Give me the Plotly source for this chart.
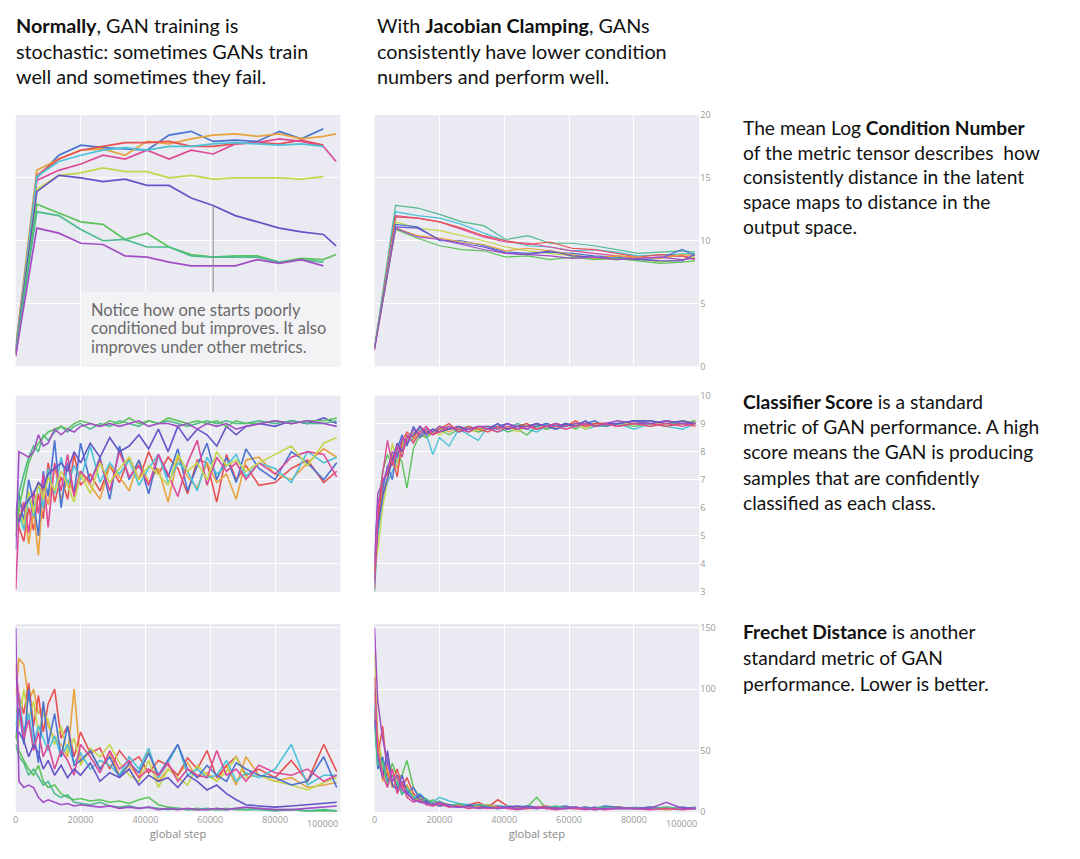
import plotly.graph_objects as go

# ---------------- data ----------------
steps_cn = [0, 6500, 13300, 20100, 26900, 33700, 40500, 47300, 54100, 60900, 67700, 74500, 81300, 88100, 94900, 98800]
steps_n = [0, 1000, 2500, 4000, 5500, 7000, 8500, 10000, 12000, 14000, 16000, 18000, 20000, 23000, 26000, 29000,
           32000, 35000, 38000, 41000, 44000, 47000, 50000, 53000, 56000, 59000, 62000, 65000, 68000, 71000,
           75000, 80000, 85000, 90000, 95000, 99000]

# Row 1 left: log condition number, normal training
cn_norm = {
    "blue":   [1.5, 15.0, 16.8, 17.6, 17.4, 17.3, 17.2, 18.4, 18.7, 17.9, 18.0, 17.9, 18.7, 18.1, 18.9, None],
    "orange": [1.5, 15.6, 16.5, 17.2, 17.3, 16.8, 17.9, 17.7, 18.1, 18.4, 18.5, 18.3, 18.5, 18.1, 18.3, 18.5],
    "red":    [1.0, 15.2, 16.5, 17.2, 17.5, 17.8, 17.8, 17.9, 17.5, 17.5, 17.7, 17.8, 17.7, 18.0, 17.6, None],
    "pink":   [0.8, 14.8, 15.6, 16.1, 16.8, 16.5, 17.2, 16.5, 17.2, 16.9, 17.7, 17.8, 18.1, 17.9, 17.5, 16.3],
    "cyan":   [1.2, 15.1, 16.3, 16.8, 17.2, 17.4, 17.2, 17.5, 17.5, 17.7, 17.8, 17.7, 17.6, 17.7, 17.5, None],
    "yellow": [1.3, 14.1, 15.2, 15.4, 15.8, 15.5, 15.5, 15.0, 15.2, 14.9, 15.0, 15.0, 15.0, 14.9, 15.1, None],
    "indigo": [1.2, 13.9, 15.2, 15.0, 14.7, 14.9, 14.4, 14.4, 13.4, 12.8, 12.0, 11.5, 11.0, 10.7, 10.5, 9.6],
    "green":  [1.0, 12.9, 12.2, 11.5, 11.3, 10.1, 10.6, 9.5, 8.9, 8.7, 8.8, 8.8, 8.3, 8.6, 8.5, 8.9],
    "sgreen": [1.1, 12.3, 12.0, 10.9, 10.0, 10.1, 9.5, 9.5, 8.8, 8.7, 8.7, 8.7, 8.3, 8.5, 8.3, None],
    "violet": [0.9, 11.0, 10.6, 9.8, 9.7, 8.8, 8.7, 8.3, 8.0, 8.0, 8.0, 8.5, 8.2, 8.5, 8.0, None],
}

# Row 1 right: log condition number, Jacobian clamping
cn_clamp = {
    "sgreen": [1.5, 12.8, 12.6, 12.1, 11.5, 11.2, 10.1, 10.4, 9.8, 9.8, 9.6, 9.3, 9.0, 9.1, 9.2, 9.1],
    "cyan":   [1.5, 12.3, 12.0, 11.8, 11.3, 10.6, 10.0, 9.6, 9.5, 9.2, 9.3, 9.1, 8.8, 8.9, 9.0, 9.0],
    "pink":   [1.4, 12.0, 11.8, 11.5, 10.9, 10.3, 9.9, 9.8, 9.5, 9.2, 9.0, 8.8, 8.6, 8.7, 8.8, 8.6],
    "red":    [1.4, 11.9, 11.8, 11.5, 11.0, 10.4, 10.0, 9.7, 9.9, 9.4, 9.3, 9.0, 8.7, 8.9, 8.8, 8.5],
    "yellow": [1.5, 11.5, 11.0, 10.8, 10.4, 10.0, 9.5, 9.2, 9.0, 8.8, 8.6, 8.5, 8.6, 8.3, 8.5, 8.7],
    "blue":   [1.5, 11.3, 11.1, 10.0, 10.0, 9.6, 9.1, 9.0, 9.1, 9.0, 8.8, 8.7, 8.5, 8.6, 9.3, 8.8],
    "orange": [1.5, 11.0, 10.4, 10.2, 9.9, 9.7, 9.2, 9.4, 9.2, 8.9, 8.6, 8.8, 8.7, 8.6, 8.9, 8.8],
    "indigo": [1.5, 11.1, 11.0, 10.1, 9.8, 9.5, 9.0, 8.9, 9.2, 8.8, 8.7, 8.6, 8.5, 8.4, 8.4, 8.9],
    "green":  [1.5, 10.9, 10.2, 9.6, 9.3, 9.2, 8.7, 8.8, 8.5, 8.7, 8.5, 8.6, 8.4, 8.2, 8.3, 8.4],
    "violet": [1.3, 11.0, 10.3, 10.1, 9.7, 9.3, 9.0, 8.9, 8.8, 8.6, 8.7, 8.5, 8.6, 8.7, 8.5, 8.6],
}

# Row 2 left: classifier score, normal training
cs_norm = {
    "red":    [5.5, 5.3, 4.8, 6.0, 5.2, 6.5, 5.6, 7.6, 6.2, 7.1, 6.3, 7.9, 6.8, 7.2, 6.6, 7.5, 6.9, 7.8, 7.0, 8.0, 7.2, 7.8, 7.4, 6.5, 7.7, 7.6, 6.2, 7.9, 7.0, 7.5, 6.8, 6.9, 7.4, 7.7, 6.9, 7.3],
    "orange": [5.0, 5.6, 6.2, 4.7, 5.9, 4.3, 6.8, 6.1, 7.5, 6.3, 7.0, 6.5, 7.3, 6.8, 6.3, 7.5, 7.1, 6.6, 7.7, 6.9, 7.4, 6.2, 7.8, 7.1, 6.7, 7.6, 6.9, 7.2, 6.3, 7.7, 7.8, 7.2, 7.0, 7.6, 8.1, 7.8],
    "blue":   [5.8, 6.5, 5.5, 7.0, 6.2, 5.0, 7.3, 6.4, 8.4, 6.0, 7.6, 6.5, 8.3, 6.9, 7.8, 6.3, 8.2, 7.0, 7.7, 6.5, 7.9, 7.1, 8.1, 6.6, 7.5, 8.3, 7.0, 7.8, 6.9, 8.1, 7.4, 7.0, 8.0, 7.6, 7.0, 7.6],
    "cyan":   [5.3, 5.8, 5.2, 6.4, 5.7, 6.9, 6.0, 7.4, 6.5, 7.8, 6.8, 7.5, 7.0, 8.2, 6.9, 7.6, 7.2, 7.7, 6.8, 7.4, 7.9, 6.9, 7.6, 7.3, 6.6, 7.8, 7.2, 7.5, 7.9, 7.1, 7.6, 7.4, 6.9, 8.0, 7.6, 7.8],
    "pink":   [3.1, 5.6, 6.2, 5.1, 6.6, 5.8, 7.2, 5.3, 7.6, 6.6, 7.9, 6.4, 7.3, 6.9, 7.7, 6.6, 8.0, 7.1, 7.5, 6.8, 7.9, 7.2, 6.4, 7.6, 8.4, 6.8, 7.8, 7.3, 7.6, 7.0, 7.6, 7.2, 7.8, 8.0, 7.9, 7.1],
    "yellow": [5.2, 6.0, 5.4, 6.6, 5.8, 6.9, 6.3, 7.1, 6.6, 7.3, 6.8, 6.2, 7.2, 6.5, 7.6, 6.9, 7.4, 7.8, 7.0, 7.5, 7.2, 6.8, 7.9, 7.3, 7.6, 7.0, 8.0, 7.5, 7.7, 7.3, 7.6, 7.9, 8.2, 7.5, 8.3, 8.5],
    "indigo": [5.8, 5.5, 6.0, 6.3, 6.5, 6.9, 6.7, 7.2, 7.4, 7.6, 7.3, 8.0, 7.6, 8.3, 7.8, 8.5, 8.0, 8.2, 8.6, 8.1, 8.8, 8.0, 8.9, 8.4, 8.8, 8.6, 8.2, 8.9, 8.6, 8.9, 9.0, 8.9, 9.1, 9.0, 9.2, 9.0],
    "sgreen": [5.5, 6.5, 7.2, 7.8, 8.2, 8.0, 8.6, 8.4, 8.7, 8.9, 8.7, 8.9, 9.0, 8.8, 9.0, 8.9, 9.1, 9.0, 8.9, 9.1, 9.0, 9.1, 9.0, 8.9, 9.0, 9.1, 9.0, 9.1, 9.0, 9.0, 9.1, 9.0, 9.1, 9.0, 9.0, 9.1],
    "green":  [5.0, 6.0, 6.8, 7.6, 8.0, 8.3, 8.5, 8.7, 8.8, 8.9, 8.8, 9.0, 9.1, 9.0, 8.9, 9.1, 9.0, 9.2, 9.0, 9.1, 9.0, 9.2, 9.1, 9.0, 9.1, 9.0, 9.1, 8.9, 9.1, 9.0, 9.0, 9.1, 9.0, 9.1, 9.1, 9.2],
    "violet": [4.5, 8.0, 7.9, 7.8, 8.0, 8.6, 8.2, 8.3, 8.8, 8.6, 8.8, 8.7, 8.9, 9.0, 8.9, 9.0, 8.9, 9.0, 9.1, 8.9, 9.0, 9.0, 8.9, 9.0, 8.8, 9.0, 8.9, 9.0, 8.8, 8.9, 9.0, 9.1, 9.0, 9.1, 9.0, 8.9],
}

# Row 2 right: classifier score, Jacobian clamping
cs_clamp = {
    "sgreen": [3.0, 5.2, 6.8, 7.3, 7.6, 7.9, 8.3, 8.5, 8.7, 8.6, 8.8, 8.7, 8.8, 8.9, 8.8, 8.9, 8.8, 8.9, 8.9, 8.8, 9.0, 8.9, 8.9, 9.0, 8.9, 9.0, 8.9, 9.0, 9.0, 8.9, 9.0, 9.0, 9.1, 9.0, 9.0, 9.0],
    "orange": [3.8, 5.6, 6.5, 7.0, 7.9, 7.4, 8.1, 8.6, 8.4, 8.8, 8.5, 8.7, 8.9, 8.7, 8.9, 8.8, 8.7, 8.9, 8.8, 8.9, 8.8, 8.9, 9.0, 8.8, 8.9, 8.9, 9.0, 8.9, 9.0, 9.0, 8.9, 9.0, 8.9, 9.1, 9.0, 9.1],
    "green":  [3.5, 6.0, 7.3, 7.9, 7.5, 8.0, 7.6, 6.7, 8.1, 8.6, 8.5, 8.7, 8.8, 8.6, 8.8, 8.9, 8.7, 8.8, 8.9, 8.7, 8.8, 8.6, 8.9, 8.8, 8.9, 9.0, 8.8, 9.0, 8.9, 8.9, 9.0, 8.9, 9.0, 8.9, 9.0, 9.1],
    "cyan":   [3.3, 5.0, 6.2, 6.9, 7.3, 7.7, 8.0, 8.3, 8.5, 8.8, 8.6, 7.9, 8.5, 8.2, 8.8, 8.6, 8.4, 8.9, 8.7, 8.8, 8.9, 8.8, 8.7, 8.9, 8.8, 8.9, 9.0, 8.8, 8.9, 8.9, 9.0, 8.8, 9.0, 8.9, 8.8, 9.0],
    "yellow": [3.7, 4.5, 6.0, 7.0, 8.3, 7.6, 8.0, 8.4, 8.7, 8.5, 8.7, 8.8, 8.6, 8.8, 8.9, 8.7, 8.8, 8.9, 8.8, 8.9, 8.7, 8.9, 9.0, 8.9, 9.0, 8.9, 9.0, 8.8, 9.0, 8.9, 9.0, 9.0, 8.9, 9.0, 9.1, 9.0],
    "blue":   [4.2, 6.2, 6.6, 7.5, 7.0, 8.1, 8.6, 8.2, 8.9, 8.5, 8.7, 8.8, 8.7, 8.9, 8.7, 8.8, 8.9, 8.8, 8.9, 9.0, 8.8, 8.9, 8.9, 9.0, 8.9, 9.0, 8.9, 9.0, 9.1, 8.9, 9.0, 9.1, 9.0, 9.1, 9.0, 9.0],
    "red":    [3.6, 5.5, 7.0, 7.2, 7.8, 7.1, 8.4, 8.7, 8.5, 8.9, 8.7, 8.6, 8.8, 9.0, 8.7, 8.9, 8.8, 8.7, 8.9, 8.8, 8.9, 9.0, 8.8, 8.9, 9.0, 8.9, 9.1, 8.9, 9.0, 9.0, 8.9, 9.0, 9.0, 8.9, 9.0, 8.9],
    "violet": [4.0, 6.5, 6.9, 7.4, 8.0, 7.8, 8.5, 8.3, 8.8, 8.6, 8.8, 8.7, 8.9, 8.8, 8.9, 8.8, 8.9, 8.9, 8.8, 9.0, 8.9, 8.8, 9.0, 8.9, 9.0, 8.9, 9.0, 9.0, 8.9, 9.0, 9.1, 9.0, 9.0, 9.1, 9.0, 9.0],
    "indigo": [3.4, 5.3, 6.4, 7.1, 7.7, 8.3, 8.0, 8.5, 8.6, 8.9, 8.6, 8.8, 8.7, 8.8, 8.9, 8.7, 8.9, 8.8, 9.0, 8.8, 8.9, 8.9, 9.0, 8.9, 8.8, 9.0, 8.9, 9.1, 8.9, 9.0, 9.0, 9.1, 9.1, 9.0, 9.1, 9.0],
    "pink":   [3.1, 5.8, 7.2, 8.4, 7.5, 8.2, 7.8, 8.6, 8.3, 8.7, 8.9, 8.6, 8.7, 8.9, 8.8, 8.7, 8.9, 8.8, 8.7, 8.9, 8.8, 8.9, 8.8, 8.9, 8.9, 8.8, 8.9, 9.0, 8.9, 9.0, 8.9, 9.0, 8.9, 9.0, 8.9, 9.0],
}

# Row 3 left: Frechet distance, normal training
fd_norm = {
    "orange": [95, 125, 120, 90, 100, 80, 85, 70, 60, 55, 45, 100, 40, 50, 35, 48, 30, 38, 28, 50, 25, 35, 30, 40, 28, 32, 25, 38, 22, 45, 30, 25, 28, 20, 22, 24],
    "red":    [110, 95, 80, 105, 70, 95, 65, 88, 100, 60, 70, 45, 65, 48, 52, 35, 50, 40, 45, 32, 42, 38, 30, 44, 35, 50, 28, 38, 45, 30, 35, 28, 42, 25, 55, 33],
    "yellow": [85, 70, 100, 75, 90, 65, 80, 75, 55, 70, 48, 60, 38, 52, 45, 55, 40, 30, 25, 42, 20, 35, 28, 22, 38, 30, 25, 33, 45, 28, 30, 25, 22, 18, 24, 28],
    "cyan":   [70, 95, 65, 80, 55, 70, 60, 50, 62, 45, 55, 40, 48, 35, 42, 38, 30, 45, 35, 52, 28, 40, 55, 30, 35, 28, 30, 42, 25, 32, 28, 35, 55, 22, 30, 30],
    "blue":   [60, 85, 55, 100, 65, 40, 90, 55, 80, 45, 70, 38, 42, 50, 35, 45, 28, 40, 32, 48, 30, 42, 55, 35, 28, 38, 30, 25, 40, 35, 30, 28, 22, 25, 45, 20],
    "pink":   [120, 90, 60, 75, 50, 65, 45, 55, 35, 50, 42, 30, 55, 45, 32, 50, 35, 42, 28, 35, 30, 40, 25, 35, 30, 28, 50, 30, 35, 25, 38, 32, 30, 35, 25, 30],
    "indigo": [60, 65, 58, 45, 55, 48, 35, 42, 30, 38, 28, 35, 30, 40, 25, 32, 28, 35, 22, 30, 25, 28, 20, 30, 25, 18, 22, 15, 10, 6, 5, 4, 5, 6, 7, 8],
    "green":  [65, 50, 42, 35, 30, 38, 25, 20, 22, 15, 12, 10, 11, 9, 10, 8, 9, 7, 10, 12, 6, 4, 3, 2, 3, 2, 2, 3, 2, 2, 3, 2, 2, 1, 1, 1],
    "sgreen": [55, 45, 40, 30, 35, 28, 22, 25, 15, 12, 14, 8, 7, 6, 8, 5, 4, 5, 3, 4, 3, 2, 3, 2, 2, 3, 2, 2, 3, 2, 2, 1, 2, 1, 2, 1],
    "violet": [150, 25, 20, 22, 20, 12, 8, 10, 8, 6, 7, 5, 6, 5, 4, 5, 3, 4, 3, 4, 2, 3, 2, 3, 2, 2, 3, 2, 3, 4, 3, 2, 2, 3, 4, 5],
}

# Row 3 right: Frechet distance, Jacobian clamping
fd_clamp = {
    "yellow": [130, 60, 40, 30, 35, 20, 25, 12, 15, 10, 8, 6, 7, 5, 6, 4, 5, 4, 3, 5, 4, 3, 4, 3, 4, 3, 3, 4, 3, 3, 4, 3, 3, 3, 3, 3],
    "green":  [100, 55, 35, 25, 40, 28, 30, 42, 20, 12, 8, 10, 7, 6, 5, 4, 5, 4, 5, 4, 3, 4, 12, 3, 4, 3, 4, 3, 3, 4, 3, 3, 4, 3, 3, 3],
    "red":    [80, 45, 70, 30, 25, 35, 20, 28, 15, 10, 9, 7, 8, 6, 5, 6, 8, 4, 10, 5, 4, 3, 4, 5, 3, 4, 3, 4, 3, 3, 4, 3, 3, 4, 3, 3],
    "cyan":   [90, 40, 30, 45, 20, 25, 15, 18, 12, 15, 10, 8, 12, 9, 7, 6, 5, 6, 4, 5, 4, 5, 4, 3, 4, 4, 3, 4, 3, 4, 3, 4, 3, 3, 4, 3],
    "blue":   [85, 35, 45, 25, 30, 20, 25, 15, 20, 10, 8, 6, 7, 5, 4, 6, 5, 4, 5, 4, 3, 5, 4, 3, 4, 5, 3, 4, 3, 5, 4, 3, 4, 3, 3, 4],
    "orange": [95, 60, 25, 35, 20, 28, 18, 22, 12, 9, 10, 7, 6, 5, 6, 4, 5, 6, 4, 3, 4, 3, 3, 4, 3, 4, 3, 3, 2, 3, 4, 3, 3, 2, 3, 3],
    "indigo": [75, 45, 28, 50, 22, 18, 30, 16, 10, 14, 9, 7, 5, 6, 4, 5, 6, 4, 3, 4, 5, 4, 3, 4, 3, 4, 4, 3, 4, 3, 4, 3, 4, 3, 4, 3],
    "sgreen": [70, 38, 42, 22, 30, 24, 14, 20, 12, 8, 11, 6, 9, 5, 7, 4, 6, 5, 3, 4, 3, 4, 3, 4, 5, 3, 4, 3, 3, 4, 3, 3, 3, 4, 3, 3],
    "pink":   [110, 50, 30, 20, 35, 15, 25, 12, 8, 10, 6, 5, 7, 4, 5, 3, 4, 3, 4, 3, 2, 3, 4, 3, 2, 3, 3, 2, 3, 2, 3, 3, 2, 3, 2, 3],
    "violet": [150, 90, 60, 40, 25, 30, 18, 15, 10, 8, 7, 6, 8, 5, 4, 5, 3, 4, 3, 4, 3, 4, 3, 4, 3, 3, 4, 3, 2, 3, 3, 3, 3, 8, 3, 3],
}

x_tick_vals = [0, 20000, 40000, 60000, 80000, 100000]
x_tick_text = ["0", "20000", "40000", "60000", "80000", ""]
last_tick_text = "100000"
cn_ticks = [0, 5, 10, 15, 20]
cs_ticks = [3, 4, 5, 6, 7, 8, 9, 10]
fd_ticks = [0, 50, 100, 150]

# ---------------- styling ----------------
COLORS = {
    "red": "#E8504F", "orange": "#E8A33C", "yellow": "#C5D64B", "green": "#5EC35A",
    "sgreen": "#4DBB8C", "cyan": "#4CC2D8", "blue": "#4A72D1", "indigo": "#6553C8",
    "violet": "#A24DC6", "pink": "#DD4A97",
}
W, H = 1080, 859
# the photographed page maps figure pixels to picture pixels roughly as  pic = off + scale * fig
SX, OX = 0.995, 10.3
SY, OY = 0.983, 15.2
FS = 1 / 0.99
BG = "#EAEAF2"
TXT = "Lato"

def px_x(p):
    return ((p - OX) / SX) / W

def px_y(p):
    return 1 - ((p - OY) / SY) / H

XL = [px_x(15), px_x(339)]
XR = [px_x(373), px_x(697)]
Y1 = [px_y(366), px_y(115)]
Y2 = [px_y(591), px_y(395)]
Y3 = [px_y(812), px_y(623)]

fig = go.Figure()

panels = [
    (1, steps_cn, cn_norm, 1.7),
    (2, steps_cn, cn_clamp, 1.2),
    (3, steps_n, cs_norm, 1.6),
    (4, steps_n, cs_clamp, 1.4),
    (5, steps_n, fd_norm, 1.6),
    (6, steps_n, fd_clamp, 1.5),
]
for idx, xs, series, lw in panels:
    for name, ys in series.items():
        fig.add_trace(go.Scatter(
            x=xs, y=ys, mode="lines", line=dict(color=COLORS[name], width=lw),
            xaxis="x" if idx == 1 else f"x{idx}", yaxis="y" if idx == 1 else f"y{idx}",
            showlegend=False, hoverinfo="skip", connectgaps=False,
        ))

X_RANGE = [0, 100150]
TICKFONT = dict(family="Open Sans", size=9 * FS, color="#999999")

def xaxis(domain, anchor, show_labels):
    d = dict(domain=domain, anchor=anchor, range=X_RANGE, showgrid=True, gridcolor="white",
             gridwidth=1, zeroline=False, showline=False, ticks="", tickvals=x_tick_vals,
             ticktext=x_tick_text, showticklabels=show_labels, tickfont=TICKFONT)
    if show_labels:
        d["title"] = dict(text="global step", font=dict(family="Open Sans", size=11 * FS, color="#888888"),
                          standoff=3)
    return d

def yaxis(domain, anchor, rng, ticks, right):
    d = dict(domain=domain, anchor=anchor, range=rng, showgrid=True, gridcolor="white", gridwidth=1,
             zeroline=False, showline=False, ticks="", tickvals=ticks,
             showticklabels=right, tickfont=TICKFONT)
    if right:
        d["side"] = "right"
    return d

fig.update_layout(
    width=W, height=H, margin=dict(l=0, r=0, t=0, b=0),
    paper_bgcolor="white", plot_bgcolor=BG,
    xaxis=xaxis(XL, "y", False), yaxis=yaxis(Y1, "x", [0, 20], cn_ticks, False),
    xaxis2=xaxis(XR, "y2", False), yaxis2=yaxis(Y1, "x2", [0, 20], cn_ticks, True),
    xaxis3=xaxis(XL, "y3", False), yaxis3=yaxis(Y2, "x3", [3, 10], cs_ticks, False),
    xaxis4=xaxis(XR, "y4", False), yaxis4=yaxis(Y2, "x4", [3, 10], cs_ticks, True),
    xaxis5=xaxis(XL, "y5", True), yaxis5=yaxis(Y3, "x5", [-1, 153], fd_ticks, False),
    xaxis6=xaxis(XR, "y6", True), yaxis6=yaxis(Y3, "x6", [-1, 153], fd_ticks, True),
)

# Note box in the first panel and its pointer to the improving run
box_top = 5.9
fig.add_shape(type="rect", xref="x", yref="y", x0=20100, x1=X_RANGE[1], y0=0, y1=box_top,
              fillcolor="#F3F3F6", line=dict(width=0), layer="above")
pi = 9
fig.add_shape(type="line", xref="x", yref="y", x0=steps_cn[pi], x1=steps_cn[pi],
              y0=cn_norm["indigo"][pi], y1=box_top, line=dict(color="#8a8a8a", width=1))

annotations = []

# last x tick label, right-aligned to its tick like in the reference
for xr in ["x5", "x6"]:
    annotations.append(dict(text=last_tick_text, x=x_tick_vals[-1], xref=xr, y=px_y(822), yref="paper",
                            xanchor="right", yanchor="middle", showarrow=False, font=TICKFONT))

def line_text(text, xp, yp, size=19.0, color="#111111"):
    annotations.append(dict(text=text, x=px_x(xp), y=px_y(yp), xref="paper", yref="paper",
                            xanchor="left", yanchor="middle", showarrow=False,
                            font=dict(family=TXT, size=size * FS, color=color)))

note_lines = ["Notice how one starts poorly", "conditioned but improves. It also", "improves under other metrics."]
for t, yy in zip(note_lines, [310, 328, 347]):
    line_text(t, 88, yy, size=16.3, color="#6a6a6a")

head_left = ["<b>Normally</b>, GAN training is", "stochastic: sometimes GANs train", "well and sometimes they fail."]
head_right = ["With <b>Jacobian Clamping</b>, GANs", "consistently have lower condition", "numbers and perform well."]
for t, yy in zip(head_left, [25, 51, 76]):
    line_text(t, 13, yy, size=19.6)
for t, yy in zip(head_right, [25, 51, 76]):
    line_text(t, 373, yy, size=19.6)

side1 = ["The mean Log <b>Condition Number</b>", "of the metric tensor describes  how",
         "consistently distance in the latent", "space maps to distance in the", "output space."]
for t, yy in zip(side1, [127, 152, 176, 201, 226]):
    line_text(t, 739, yy)
side2 = ["<b>Classifier Score</b> is a standard", "metric of GAN performance. A high",
         "score means the GAN is producing", "samples that are confidently", "classified as each class."]
for t, yy in zip(side2, [401, 426, 451, 477, 502]):
    line_text(t, 739, yy)
side3 = ["<b>Frechet Distance</b> is another", "standard metric of GAN", "performance. Lower is better."]
for t, yy in zip(side3, [631, 656, 682]):
    line_text(t, 739, yy)

fig.update_layout(annotations=annotations)
fig.write_html("out.html")
